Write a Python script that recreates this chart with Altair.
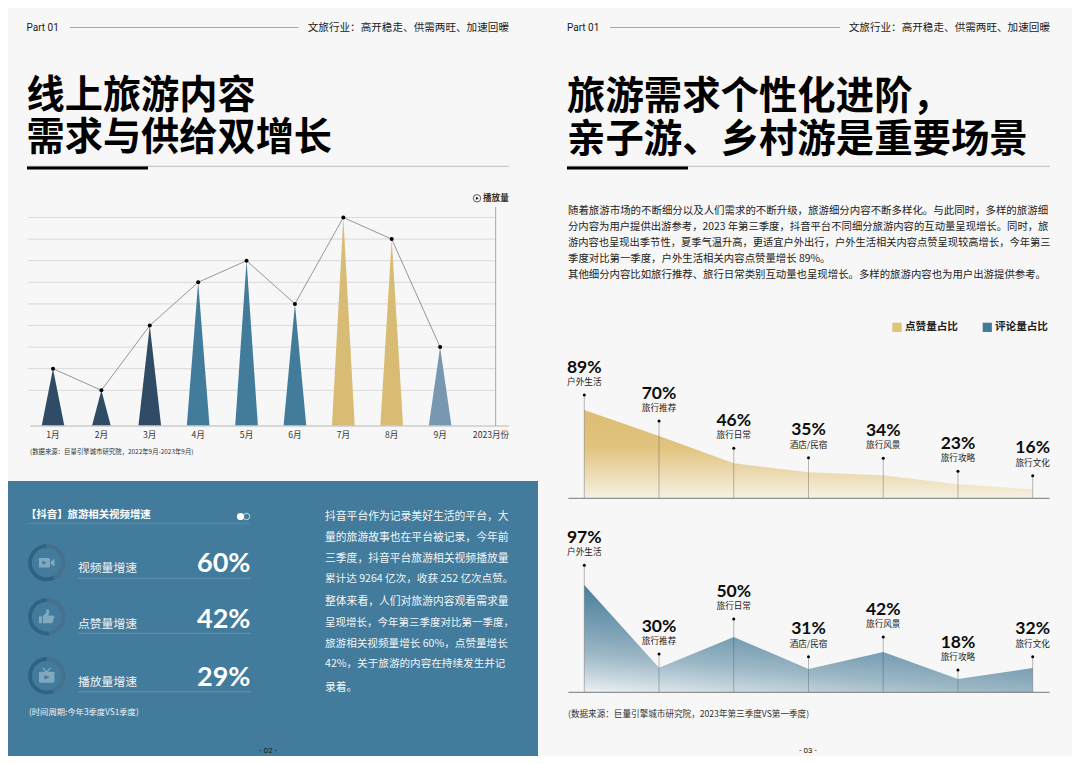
import altair as alt
import pandas as pd

# ---------------- data ----------------
months = ["1月", "2月", "3月", "4月", "5月", "6月", "7月", "8月", "9月"]
month_idx = [1, 2, 3, 4, 5, 6, 7, 8, 9]
play_values = [57.3, 35.7, 100.5, 143.7, 165.3, 122.1, 208.5, 186.9, 78.9]
grid_values = [35.7, 57.3, 78.9, 100.5, 122.1, 143.7, 165.3, 186.9, 208.5]
tri_half = [0.235, 0.195, 0.235, 0.235, 0.235, 0.235, 0.235, 0.235, 0.235]
tri_colors = ["#2f4b66", "#2f4b66", "#2f4b66", "#437c9b", "#437c9b", "#437c9b",
              "#d9bc74", "#d9bc74", "#7798b0"]

cats = ["户外生活", "旅行推荐", "旅行日常", "酒店/民宿", "旅行风景", "旅行攻略", "旅行文化"]
like_labels = ["89%", "70%", "46%", "35%", "34%", "23%", "16%"]
like_area = [88.3, 62.3, 35.0, 26.0, 23.0, 14.0, 9.0]
like_dot = [103.3, 77.3, 50.0, 40.6, 40.0, 27.0, 22.6]
comment_labels = ["97%", "30%", "50%", "31%", "42%", "18%", "32%"]
comment_area = [107.3, 24.6, 55.3, 23.3, 40.3, 13.3, 24.3]
comment_dot = [127.0, 38.3, 73.3, 35.6, 55.3, 22.3, 35.6]

growth_names = ["视频量增速", "点赞量增速", "播放量增速"]
growth_vals = ["60%", "42%", "29%"]
ring_dark = [57, 52, 56]

body_lines = [
    "随着旅游市场的不断细分以及人们需求的不断升级，旅游细分内容不断多样化。与此同时，多样的旅游细",
    "分内容为用户提供出游参考，2023 年第三季度，抖音平台不同细分旅游内容的互动量呈现增长。同时，旅",
    "游内容也呈现出季节性，夏季气温升高，更适宜户外出行，户外生活相关内容点赞呈现较高增长，今年第三",
    "季度对比第一季度，户外生活相关内容点赞量增长 89%。",
    "其他细分内容比如旅行推荐、旅行日常类别互动量也呈现增长。多样的旅游内容也为用户出游提供参考。",
]
body_sizes = [10.45, 10.35, 10.27, 10.4, 10.4]
panel_lines = [
    "抖音平台作为记录美好生活的平台，大",
    "量的旅游故事也在平台被记录，今年前",
    "三季度，抖音平台旅游相关视频播放量",
    "累计达 9264 亿次，收获 252 亿次点赞。",
    "整体来看，人们对旅游内容观看需求量",
    "呈现增长，今年第三季度对比第一季度，",
    "旅游相关视频量增长 60%，点赞量增长",
    "42%，关于旅游的内容在持续发生并记",
    "录着。",
]
panel_sizes = [10.8, 10.8, 10.8, 10.6, 10.8, 10.5, 10.6, 10.6, 10.8]

CJK = "Noto Sans CJK SC"
BG = "#f7f7f7"
BLUE = "#427b9b"
one = alt.Data(values=[{"a": 1}])
layers = []


def px(v):
    return alt.value(v - 8)


def rect(x0, x1, y0, y1, color):
    layers.append(alt.Chart(one).mark_rect(color=color).encode(
        x=px(x0), x2=px(x1), y=px(y0), y2=px(y1)))


def hline(x0, x1, y, color="#999999", w=1.0):
    layers.append(alt.Chart(one).mark_rule(color=color, strokeWidth=w).encode(
        x=px(x0), x2=px(x1), y=px(y)))


def text(s, x, y, size, color="#1a1a1a", weight="normal", align="left", font=CJK):
    layers.append(alt.Chart(one).mark_text(
        fontSize=size, color=color, fontWeight=weight, align=align,
        baseline="middle", font=font).encode(
        x=px(x), y=px(y), text=alt.value(s)))


def symbol(shape, x, y, size, fill=None, stroke=None, sw=1.0):
    kw = dict(shape=shape, size=size, opacity=1)
    if fill:
        kw.update(filled=True, fill=fill, strokeOpacity=0)
    else:
        kw.update(filled=False, fill="transparent", stroke=stroke, strokeWidth=sw)
    layers.append(alt.Chart(one).mark_point(**kw).encode(x=px(x), y=px(y)))


# ---------------- page furniture ----------------
rect(-10, 1100, -10, 780, BG)
rect(-10, 538, 481, 780, BLUE)

text("Part  01", 26.5, 28, 10, font="Roboto")
hline(70, 298.6, 27.5, "#a8a8a8", 1)
text("文旅行业：高开稳走、供需两旺、加速回暖", 509, 28, 10.6, align="right")
text("Part 01", 567, 28, 10, font="Roboto")
hline(610, 840, 27.5, "#a8a8a8", 1)
text("文旅行业：高开稳走、供需两旺、加速回暖", 1050, 28, 10.6, align="right")

text("线上旅游内容", 26.5, 97, 38.2, "#000000", "bold")
text("需求与供给双增长", 26.5, 139, 38.2, "#000000", "bold")
text("旅游需求个性化进阶，", 567, 97, 38.4, "#000000", "bold")
text("亲子游、乡村游是重要场景", 567, 140, 38.4, "#000000", "bold")
hline(27, 509, 166.3, "#bdbdbd", 1)
hline(27, 148, 168, "#000000", 3)
hline(567, 1050, 166.3, "#bdbdbd", 1)
hline(567, 688, 168, "#000000", 3)

# ---------------- left chart ----------------
L_X = alt.Scale(domain=[1, 9], range=[53.0 - 8, 440.1 - 8], zero=False, nice=False)
L_Y = alt.Scale(domain=[0, 208.5], range=[426 - 8, 217.5 - 8], zero=False, nice=False)

layers.append(alt.Chart(pd.DataFrame({"g": grid_values})).mark_rule(
    color="#d6d6d6", strokeWidth=0.9).encode(
    y=alt.Y("g:Q", scale=L_Y, axis=None), x=px(27.5), x2=px(495.6)))

tri_rows = []
for m, i, v, h in zip(months, month_idx, play_values, tri_half):
    tri_rows += [{"m": m, "x": i - h, "v": 0}, {"m": m, "x": i, "v": v}, {"m": m, "x": i + h, "v": 0}]
layers.append(alt.Chart(pd.DataFrame(tri_rows)).mark_area(interpolate="linear").encode(
    x=alt.X("x:Q", scale=L_X, axis=None),
    y=alt.Y("v:Q", scale=L_Y, axis=None, stack=None),
    color=alt.Color("m:N", scale=alt.Scale(domain=months, range=tri_colors), legend=None),
    detail="m:N"))

left_df = pd.DataFrame({"m": months, "i": month_idx, "v": play_values})
layers.append(alt.Chart(left_df).mark_line(color="#555555", strokeWidth=0.6).encode(
    x=alt.X("i:Q", scale=L_X, axis=None), y=alt.Y("v:Q", scale=L_Y, axis=None)))
layers.append(alt.Chart(left_df).mark_point(filled=True, color="#000000", size=16, opacity=1).encode(
    x=alt.X("i:Q", scale=L_X, axis=None), y=alt.Y("v:Q", scale=L_Y, axis=None)))
layers.append(alt.Chart(left_df).mark_text(fontSize=8.6, font=CJK, color="#333333", baseline="middle").encode(
    x=alt.X("i:Q", scale=L_X, axis=None), y=px(434.5), text="m:N"))
text("2023月份", 491, 434.5, 8.6, "#333333", align="center")
hline(30.3, 509, 426, "#cccccc", 1.6)
layers.append(alt.Chart(one).mark_rule(color="#999999", strokeWidth=0.8).encode(
    x=px(495.6), y=px(207), y2=px(426)))
symbol("circle", 477, 198.3, 55, stroke="#333333", sw=0.8)
symbol("triangle-right", 477.3, 198.3, 10, fill="#111111")
text("播放量", 483, 198.3, 8.6, "#333333", "bold")
text("(数据来源：巨量引擎城市研究院，2022年9月-2023年9月)", 30, 451.7, 6.4, "#333333")

# ---------------- blue panel ----------------
text("【抖音】旅游相关视频增速", 26, 515, 10.4, "#ffffff", "bold")
hline(27.5, 250, 523.3, "#6095b0", 0.8)
symbol("circle", 246.5, 516.5, 42, stroke="#ffffff", sw=0.7)
symbol("circle", 240.5, 516.5, 52, fill="#ffffff")

ROW_RING_Y = [562.7, 616.7, 675.7]
ROW_LAB_Y = [567.7, 624, 682]
ROW_VAL_Y = [563.5, 620, 678]
ROW_LINE_Y = [578.3, 633.3, 691.7]
VIDEO = ("M-1 -.62 L.3 -.62 Q.42 -.62 .42 -.5 L.42 .5 Q.42 .62 .3 .62 L-1 .62 Z"
         " M.5 -.12 L1 -.5 L1 .5 L.5 .12 Z "
         "M-.55 -.28 L-.55 .28 L0 0 Z")
THUMB = ("M-1 -.05 L-.62 -.05 L-.62 .85 L-1 .85 Z "
         "M-.5 -.1 L-.12 -.45 L0 -1 Q.38 -1 .32 -.55 L.22 -.15 L.85 -.15 Q1.02 -.1 .96 .1 "
         "L.76 .75 Q.7 .88 .55 .85 L-.5 .85 Z")
TV = ("M-.85 -.5 L.85 -.5 Q1 -.5 1 -.35 L1 .75 Q1 .9 .85 .9 L-.85 .9 Q-1 .9 -1 .75 L-1 -.35 Q-1 -.5 -.85 -.5 Z "
      "M-.3 -.1 L-.3 .5 L.4 .2 Z "
      "M-.6 -1 L-.45 -1.05 L0 -.6 L.45 -1.05 L.6 -1 L.1 -.45 L-.1 -.45 Z")
icons = [VIDEO, THUMB, TV]
for k in range(3):
    rows = [{"s": 0, "e": 100 - ring_dark[k], "c": "l"}, {"s": 100 - ring_dark[k], "e": 100, "c": "d"}]
    layers.append(alt.Chart(pd.DataFrame(rows)).mark_arc(innerRadius=14.8, outerRadius=18.6).encode(
        theta=alt.Theta("s:Q", scale=alt.Scale(domain=[0, 100]), stack=None),
        theta2="e:Q",
        color=alt.Color("c:N", scale=alt.Scale(domain=["l", "d"], range=["#46708c", "#2d6485"]), legend=None),
        x=px(46.7), y=px(ROW_RING_Y[k])))
    symbol(icons[k], 46.7, ROW_RING_Y[k], 240, fill="#80a8bf")
    text(growth_names[k], 78, ROW_LAB_Y[k], 11.8, "#eef3f6")
    text(growth_vals[k], 250.5, ROW_VAL_Y[k], 27, "#ffffff", "bold", "right", "Lato")
    hline(78, 251, ROW_LINE_Y[k], "#6b9ab2", 0.8)
text("(时间周期:今年3季度VS1季度)", 29, 713.3, 8.3, "#eef3f6")
text("- 02 -", 268, 751, 8, "#10202c", align="center", font="Roboto")

panel_y = [517.3, 538.3, 559, 579.3, 601.7, 622.7, 644, 664.3, 687.7]
for s, y, z in zip(panel_lines, panel_y, panel_sizes):
    text(s, 325, y, z, "#f2f6f8")

# ---------------- right text ----------------
body_y = [211, 227, 243, 258.5, 274.5]
for s, y, z in zip(body_lines, body_y, body_sizes):
    text(s, 568, y, z, "#222222")

rect(892.3, 901.7, 322.7, 332, "#e0c279")
text("点赞量占比", 905, 327.3, 10.6, "#222222", "bold")
rect(982.7, 991.9, 322.7, 332, "#437c9b")
text("评论量占比", 995, 327.3, 10.6, "#222222", "bold")


# ---------------- right charts ----------------
def area_panel(labels, area, dot, base_px, fill):
    sx = alt.Scale(type="point", domain=cats, range=[584.3 - 8, 1032.7 - 8], padding=0)
    sy = alt.Scale(domain=[0, 140], range=[base_px - 8, base_px - 148], zero=False, nice=False)
    df = pd.DataFrame({"c": cats, "a": area, "d": dot, "p": labels})
    x = alt.X("c:N", scale=sx, axis=None, sort=cats)
    layers.append(alt.Chart(df).mark_area(color=fill, interpolate="linear").encode(
        x=x, y=alt.Y("a:Q", scale=sy, axis=None, stack=None)))
    layers.append(alt.Chart(df).mark_rule(color="#555555", opacity=0.5, strokeWidth=0.8).encode(
        x=x, y=alt.Y("d:Q", scale=sy, axis=None), y2=alt.datum(0)))
    layers.append(alt.Chart(df).mark_point(filled=True, color="#000000", size=9, opacity=1).encode(
        x=x, y=alt.Y("d:Q", scale=sy, axis=None)))
    layers.append(alt.Chart(df).mark_text(fontSize=17.5, fontWeight="bold", font="Lato", color="#0d0d0d",
                                          baseline="middle", dy=-27.3).encode(
        x=x, y=alt.Y("d:Q", scale=sy, axis=None), text="p:N"))
    layers.append(alt.Chart(df).mark_text(fontSize=8.6, font=CJK, color="#222222",
                                          baseline="middle", dy=-13).encode(
        x=x, y=alt.Y("d:Q", scale=sy, axis=None), text="c:N"))
    hline(568.3, 1049.5, base_px, "#777777", 1)


gold = alt.Gradient(gradient="linear", x1=0, x2=0, y1=0, y2=1, stops=[
    alt.GradientStop(offset=0, color="#dcbd75"),
    alt.GradientStop(offset=0.42, color="#e1c37e"),
    alt.GradientStop(offset=1, color="#f6f1e3")])
blue = alt.Gradient(gradient="linear", x1=0, y1=1, x2=0.35, y2=0.1, stops=[
    alt.GradientStop(offset=0, color="#eef2f4"),
    alt.GradientStop(offset=0.15, color="#c8d7df"),
    alt.GradientStop(offset=0.35, color="#9db8c6"),
    alt.GradientStop(offset=0.55, color="#7fa3b6"),
    alt.GradientStop(offset=1, color="#437c9b")])
area_panel(like_labels, like_area, like_dot, 498.3, gold)
area_panel(comment_labels, comment_area, comment_dot, 692.3, blue)

text("(数据来源：巨量引擎城市研究院，2023年第三季度VS第一季度)", 568, 714, 8.6, "#333333")
text("- 03 -", 808, 751, 8, "#222222", align="center", font="Roboto")

chart = alt.layer(*layers).resolve_scale(
    x="independent", y="independent", color="independent", theta="independent"
).properties(
    width=1064, height=748, padding=0,
    autosize=alt.AutoSizeParams(type="none", contains="content"),
    background=BG,
).configure_view(stroke=None)

chart.save("out.html", embed_options={"renderer": "svg", "actions": False})
